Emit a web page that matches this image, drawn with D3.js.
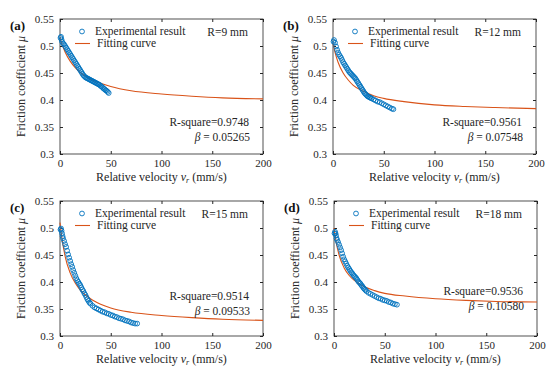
<!DOCTYPE html>
<html>
<head>
<meta charset="utf-8">
<script src="https://d3js.org/d3.v7.min.js"></script>
<style>
  body { margin: 0; background: #fff; }
  svg, svg text { font-family: "Liberation Serif", "Times New Roman", Times, serif; }
</style>
</head>
<body>
<svg id="chart" width="550" height="372"></svg>
<script>
// fitting curve sample points
const fitV = [0, 2, 5, 10, 15, 20, 30, 40, 50, 70, 100, 130, 160, 200];
const fitMuA = [0.515, 0.503, 0.489, 0.472, 0.460, 0.451, 0.439, 0.431, 0.425, 0.417, 0.411, 0.407, 0.404, 0.402];
const fitMuB = [0.505, 0.488, 0.470, 0.450, 0.437, 0.427, 0.416, 0.408, 0.403, 0.397, 0.391, 0.388, 0.386, 0.384];
const fitMuC = [0.510, 0.480, 0.448, 0.417, 0.398, 0.385, 0.369, 0.359, 0.352, 0.344, 0.338, 0.334, 0.331, 0.329];
const fitMuD = [0.500, 0.475, 0.450, 0.426, 0.412, 0.403, 0.391, 0.384, 0.379, 0.374, 0.369, 0.366, 0.364, 0.363];

// experimental results
const expVA = [0.5,1,1.5,2,3,4,5,6,7,8,9,10,11,12,13,14,15,16,17,18,19,20,21,22,23,24,25,26,27,28,29,30,31,32,33,34,35,36,37,38,39,40,41,42,43,44,45,46,47,48];
const expMuA = [0.515,0.517,0.512,0.508,0.505,0.503,0.500,0.497,0.494,0.491,0.488,0.485,0.482,0.479,0.476,0.473,0.470,0.467,0.464,0.461,0.458,0.455,0.452,0.449,0.446,0.444,0.442,0.441,0.440,0.439,0.438,0.437,0.436,0.435,0.434,0.433,0.432,0.431,0.430,0.429,0.428,0.426,0.425,0.423,0.421,0.420,0.418,0.417,0.415,0.413];

const expVB = [0.5,1,2,3,4,5,6,7,8,9,10,11,12,13,14,15,16,17,18,19,20,21,22,23,24,25,26,27,28,29,30,31,32,33,34,35,36,37,38,40,42,44,46,48,50,52,54,56,58,59.5];
const expMuB = [0.508,0.511,0.506,0.499,0.493,0.488,0.484,0.481,0.478,0.474,0.470,0.467,0.464,0.461,0.458,0.455,0.452,0.450,0.448,0.446,0.444,0.442,0.440,0.437,0.434,0.431,0.428,0.425,0.422,0.419,0.416,0.413,0.411,0.409,0.407,0.406,0.405,0.404,0.403,0.401,0.399,0.397,0.396,0.394,0.392,0.390,0.388,0.386,0.384,0.383];

const expVC = [0.5,1,1.5,2,2.5,3,4,5,6,7,8,9,10,11,12,13,14,15,16,17,18,19,20,21,22,23,24,25,26,27,28,29,30,32,34,36,38,40,42,44,46,48,50,52,54,56,58,60,62,64,66,68,70,72,74,76];
const expMuC = [0.497,0.499,0.495,0.490,0.485,0.481,0.476,0.470,0.465,0.458,0.451,0.445,0.439,0.433,0.428,0.422,0.417,0.412,0.407,0.403,0.400,0.397,0.394,0.390,0.386,0.383,0.379,0.376,0.372,0.368,0.365,0.362,0.360,0.356,0.353,0.351,0.349,0.347,0.345,0.344,0.342,0.341,0.339,0.338,0.336,0.335,0.333,0.332,0.331,0.329,0.328,0.327,0.325,0.324,0.323,0.323];

const expVD = [0.5,1,1.5,2,2.5,3,4,5,6,7,8,9,10,11,12,13,14,15,16,17,18,19,20,21,22,23,24,25,26,27,28,29,30,31,32,34,36,38,40,42,44,46,48,50,52,54,56,58,60,62];
const expMuD = [0.490,0.493,0.490,0.486,0.481,0.478,0.474,0.469,0.464,0.459,0.453,0.447,0.442,0.438,0.434,0.430,0.427,0.424,0.421,0.418,0.416,0.413,0.411,0.409,0.407,0.404,0.401,0.399,0.397,0.394,0.392,0.389,0.387,0.385,0.383,0.380,0.378,0.376,0.374,0.372,0.370,0.369,0.367,0.366,0.365,0.363,0.362,0.360,0.359,0.358];

const xTicks = [0, 50, 100, 150, 200];
const yTicks = [0.3, 0.35, 0.4, 0.45, 0.5, 0.55];

const panels = [
  { tag: "(a)", r: "R=9 mm", rsq: "R-square=0.9748", beta: "0.05265", fit: fitMuA, ev: expVA, em: expMuA, x0: 60, y0: 19, statsY: 107 },
  { tag: "(b)", r: "R=12 mm", rsq: "R-square=0.9561", beta: "0.07548", fit: fitMuB, ev: expVB, em: expMuB, x0: 333, y0: 19, statsY: 107 },
  { tag: "(c)", r: "R=15 mm", rsq: "R-square=0.9514", beta: "0.09533", fit: fitMuC, ev: expVC, em: expMuC, x0: 60, y0: 201, statsY: 99 },
  { tag: "(d)", r: "R=18 mm", rsq: "R-square=0.9536", beta: "0.10580", fit: fitMuD, ev: expVD, em: expMuD, x0: 334, y0: 201, statsY: 94 }
];

const W = 203, H = 135;
const blue = "#0072BD", orange = "#D95319", ink = "#262626";
const FONT = "Liberation Serif, Times New Roman, Times, serif";
const svg = d3.select("#chart").attr("font-family", FONT);

panels.forEach(p => {
  const g = svg.append("g").attr("transform", `translate(${p.x0},${p.y0})`);
  const x = d3.scaleLinear().domain([0, 200]).range([0, W]);
  const y = d3.scaleLinear().domain([0.3, 0.55]).range([H, 0]);

  // axes with inward ticks, box on
  g.append("g").attr("transform", `translate(0,${H})`)
    .call(d3.axisBottom(x).tickValues(xTicks).tickFormat(d3.format("d")).tickSizeInner(-3).tickSizeOuter(0).tickPadding(5));
  g.append("g")
    .call(d3.axisLeft(y).tickValues(yTicks).tickFormat(d => String(+d.toFixed(2))).tickSizeInner(-3).tickSizeOuter(0).tickPadding(6));
  g.append("g").call(d3.axisTop(x).tickValues(xTicks).tickFormat("").tickSizeInner(-3).tickSizeOuter(0));
  g.append("g").attr("transform", `translate(${W},0)`)
    .call(d3.axisRight(y).tickValues(yTicks).tickFormat("").tickSizeInner(-3).tickSizeOuter(0));
  g.selectAll("g").attr("font-family", FONT);
  g.selectAll(".domain").remove();
  g.selectAll(".tick line").attr("stroke", ink);
  g.selectAll(".tick text").attr("font-size", 11).attr("fill", ink);
  g.append("rect").attr("width", W).attr("height", H).attr("fill", "none").attr("stroke", ink).attr("stroke-width", 0.8);

  // fitting curve
  const line = d3.line().x((d, i) => x(fitV[i])).y(d => y(d)).curve(d3.curveMonotoneX);
  g.append("path").datum(p.fit).attr("d", line).attr("fill", "none").attr("stroke", orange).attr("stroke-width", 1.1);

  // experimental points
  g.append("g").selectAll("circle").data(p.em).join("circle")
    .attr("cx", (d, i) => x(p.ev[i])).attr("cy", d => y(d)).attr("r", 2.4)
    .attr("fill", "none").attr("stroke", blue).attr("stroke-width", 0.9);

  // legend
  g.append("circle").attr("cx", 22).attr("cy", 12.5).attr("r", 2.4).attr("fill", "none").attr("stroke", blue).attr("stroke-width", 0.9);
  g.append("text").attr("x", 35).attr("y", 16).attr("font-size", 11.5).attr("fill", ink).text("Experimental result");
  g.append("line").attr("x1", 15).attr("x2", 30).attr("y1", 24.5).attr("y2", 24.5).attr("stroke", orange).attr("stroke-width", 1.1);
  g.append("text").attr("x", 37).attr("y", 28).attr("font-size", 11.5).attr("fill", ink).text("Fitting curve");
  g.append("text").attr("x", 188).attr("y", 17).attr("text-anchor", "end").attr("font-size", 11.5).attr("fill", ink).text(p.r);

  // stats
  g.append("text").attr("x", 189).attr("y", p.statsY).attr("text-anchor", "end")
    .attr("font-size", 11.5).attr("fill", ink).text(p.rsq);
  const bt = g.append("text").attr("x", 190).attr("y", p.statsY + 15).attr("text-anchor", "end")
    .attr("font-size", 11.5).attr("fill", ink);
  bt.append("tspan").attr("font-style", "italic").text("β");
  bt.append("tspan").text(" = " + p.beta);

  // axis titles
  const xt = g.append("text").attr("x", W / 2).attr("y", H + 27).attr("text-anchor", "middle").attr("font-size", 12).attr("fill", ink);
  xt.append("tspan").text("Relative velocity ");
  xt.append("tspan").attr("font-style", "italic").text("v");
  xt.append("tspan").attr("font-style", "italic").attr("font-size", 8).attr("dy", 2).text("r");
  xt.append("tspan").attr("dy", -2).text("  (mm/s)");

  const yt = g.append("text").attr("transform", `translate(-35,${H / 2}) rotate(-90)`).attr("text-anchor", "middle").attr("font-size", 12).attr("fill", ink);
  yt.append("tspan").text("Friction coefficient ");
  yt.append("tspan").attr("font-style", "italic").text("μ");

  // panel tag
  g.append("text").attr("x", -50).attr("y", 11).attr("font-size", 13).attr("font-weight", "bold").attr("fill", "#111").text(p.tag);
});
</script>
</body>
</html>
